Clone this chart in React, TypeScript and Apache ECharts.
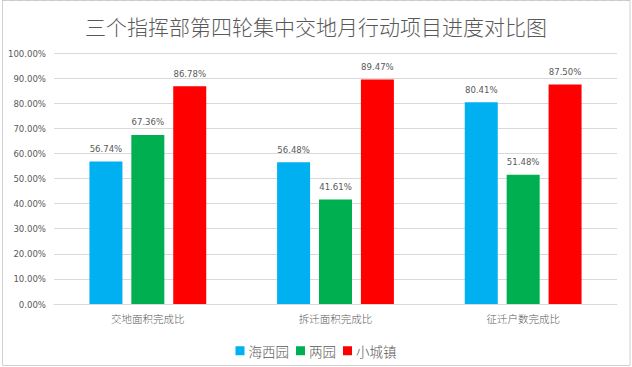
import React, { useEffect, useRef } from "react";
import * as echarts from "echarts";

const title = "三个指挥部第四轮集中交地月行动项目进度对比图";
const categories = ["交地面积完成比", "拆迁面积完成比", "征迁户数完成比"];
const seriesNames = ["海西园", "两园", "小城镇"];
const haixiyuan = [56.74, 56.48, 80.41];
const liangyuan = [67.36, 41.61, 51.48];
const xiaochengzhen = [86.78, 89.47, 87.5];
const colors = ["#00B0F0", "#00B050", "#FF0000"];

const numFont = "'Liberation Sans Narrow', 'DejaVu Sans Condensed', 'Liberation Sans', sans-serif";
const cjkFont = "'Noto Sans CJK SC', sans-serif";

export default function App() {
  const ref = useRef<HTMLDivElement>(null);
  useEffect(() => {
    document.body.style.margin = "0";
    const chart = echarts.init(ref.current!, null, { renderer: "svg" });
    const values = [haixiyuan, liangyuan, xiaochengzhen];
    chart.setOption({
      animation: false,
      backgroundColor: "#ffffff",
      title: {
        text: title,
        left: "center",
        top: 10,
        textStyle: { fontFamily: cjkFont, fontSize: 21, fontWeight: 300, color: "#595959" },
      },
      legend: {
        data: seriesNames,
        left: "center",
        top: 339,
        icon: "rect",
        itemWidth: 9,
        itemHeight: 9,
        itemGap: 7,
        textStyle: { fontFamily: cjkFont, fontSize: 13.5, fontWeight: 300, color: "#595959", padding: [0, 0, 0, -1] },
      },
      grid: { left: 54, right: 15, top: 53, bottom: 63, containLabel: false },
      xAxis: {
        type: "category",
        data: categories,
        axisLine: { lineStyle: { color: "#D9D9D9" } },
        axisTick: { show: false },
        axisLabel: { margin: 9, fontFamily: cjkFont, fontSize: 10.5, fontWeight: 300, color: "#595959" },
      },
      yAxis: {
        type: "value",
        min: 0,
        max: 100,
        interval: 10,
        axisLine: { show: false },
        axisTick: { show: false },
        splitLine: { lineStyle: { color: "#D9D9D9" } },
        axisLabel: {
          margin: 8,
          fontFamily: numFont,
          fontSize: 9.5,
          color: "#595959",
          formatter: (v: number) => v.toFixed(2) + "%",
        },
      },
      series: seriesNames.map((name, i) => ({
        name,
        type: "bar",
        data: values[i],
        barWidth: 33,
        barGap: "27%",
        itemStyle: { color: colors[i] },
        label: {
          show: true,
          position: "top",
          distance: 8,
          fontFamily: numFont,
          fontSize: 9.5,
          color: "#595959",
          formatter: (p: any) => Number(p.value).toFixed(2) + "%",
        },
      })),
      graphic: [
        {
          type: "rect",
          shape: { x: 2.5, y: 0.5, width: 627.5, height: 365 },
          style: { fill: "none", stroke: "#D0D0D0", lineWidth: 1 },
          silent: true,
        },
        {
          type: "line",
          shape: { x1: 2, y1: 0.5, x2: 631, y2: 0.5 },
          style: { stroke: "#C8C8C8", lineWidth: 1, lineDash: [4, 4] },
          silent: true,
        },
      ],
    });
    return () => chart.dispose();
  }, []);
  return (
    <div
      ref={ref}
      style={{ position: "absolute", left: 0, top: 0, width: 632, height: 367 }}
    />
  );
}
